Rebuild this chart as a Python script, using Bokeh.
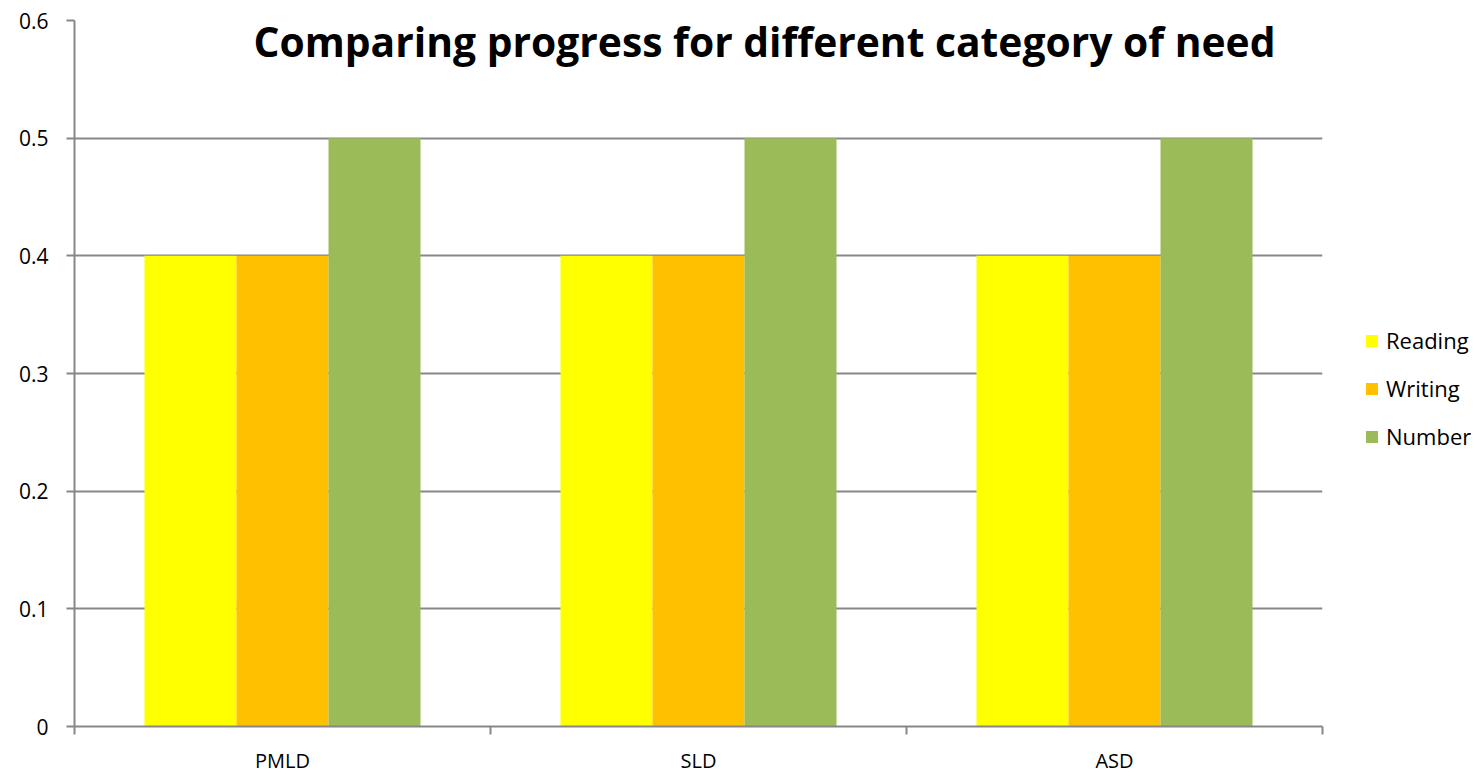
from bokeh.plotting import figure
from bokeh.models import ColumnDataSource, FixedTicker, Range1d, Label, Legend, LegendItem
from bokeh.embed import file_html
from bokeh.resources import INLINE

categories = ["PMLD", "SLD", "ASD"]
reading = [0.4, 0.4, 0.4]
writing = [0.4, 0.4, 0.4]
number = [0.5, 0.5, 0.5]
y_ticks = [0, 0.1, 0.2, 0.3, 0.4, 0.5, 0.6]
title_text = "Comparing progress for different category of need"

FONT = "Open Sans"
GRID = "#878787"

p = figure(frame_width=1248, frame_height=706, output_backend="svg", toolbar_location=None,
           x_range=Range1d(0, 3), y_range=Range1d(0, 0.6),
           min_border_left=74, min_border_right=0, min_border_top=20, min_border_bottom=38)
p.outline_line_color = None
p.background_fill_color = "white"

centers = [i + 0.5 for i in range(len(categories))]
bw = 92 / 416
series = [("Reading", reading, "#FFFF00", -bw), ("Writing", writing, "#FFC000", 0.0),
          ("Number", number, "#9BBB59", bw)]
renderers = []
for name, vals, color, off in series:
    src = ColumnDataSource(dict(x=[c + off for c in centers], top=vals))
    r = p.vbar(x="x", top="top", bottom=0, width=bw, source=src, fill_color=color, line_color=None)
    renderers.append((name, r))

# axes
p.xaxis.ticker = FixedTicker(ticks=centers, minor_ticks=[0, 1, 2, 3])
p.xaxis.major_label_overrides = {c: n for c, n in zip(centers, categories)}
p.xaxis.major_tick_out = 0
p.xaxis.major_tick_in = 0
p.xaxis.minor_tick_out = 8
p.xaxis.minor_tick_in = 0
p.xaxis.minor_tick_line_color = GRID
p.xaxis.minor_tick_line_width = 2
p.xaxis.axis_line_color = GRID
p.xaxis.axis_line_width = 2
p.xaxis.major_label_text_font = FONT
p.xaxis.major_label_text_font_size = "20px"
p.xaxis.major_label_text_color = "black"
p.xaxis.major_label_standoff = 12

p.yaxis.ticker = FixedTicker(ticks=y_ticks, minor_ticks=[])
p.yaxis.major_label_overrides = {0: "0"}
p.yaxis.major_tick_out = 8
p.yaxis.major_tick_in = 0
p.yaxis.major_tick_line_color = GRID
p.yaxis.major_tick_line_width = 2
p.yaxis.axis_line_color = GRID
p.yaxis.axis_line_width = 2
p.yaxis.major_label_text_font = FONT
p.yaxis.major_label_text_font_size = "21px"
p.yaxis.major_label_text_color = "black"
p.yaxis.major_label_standoff = 18

p.xgrid.grid_line_color = None
p.ygrid.ticker = FixedTicker(ticks=y_ticks)
p.ygrid.grid_line_color = GRID
p.ygrid.grid_line_width = 2

title = Label(x=(764 - 74) / 416, y=0.6 - 20 / 706 * 0.6, text=title_text,
              text_align="center", text_baseline="middle",
              text_font=FONT, text_font_style="bold", text_font_size="40.8px", text_color="black")
p.add_layout(title)

legend = Legend(items=[LegendItem(label=n, renderers=[r]) for n, r in renderers],
                location=(42, 275), border_line_color=None, background_fill_alpha=0,
                label_text_font=FONT, label_text_font_size="22px", label_text_color="black",
                label_height=20, glyph_width=15, glyph_height=15, spacing=18, label_standoff=7,
                padding=0, margin=0)
p.add_layout(legend, "right")

open("out.html", "w").write(file_html(p, INLINE))
